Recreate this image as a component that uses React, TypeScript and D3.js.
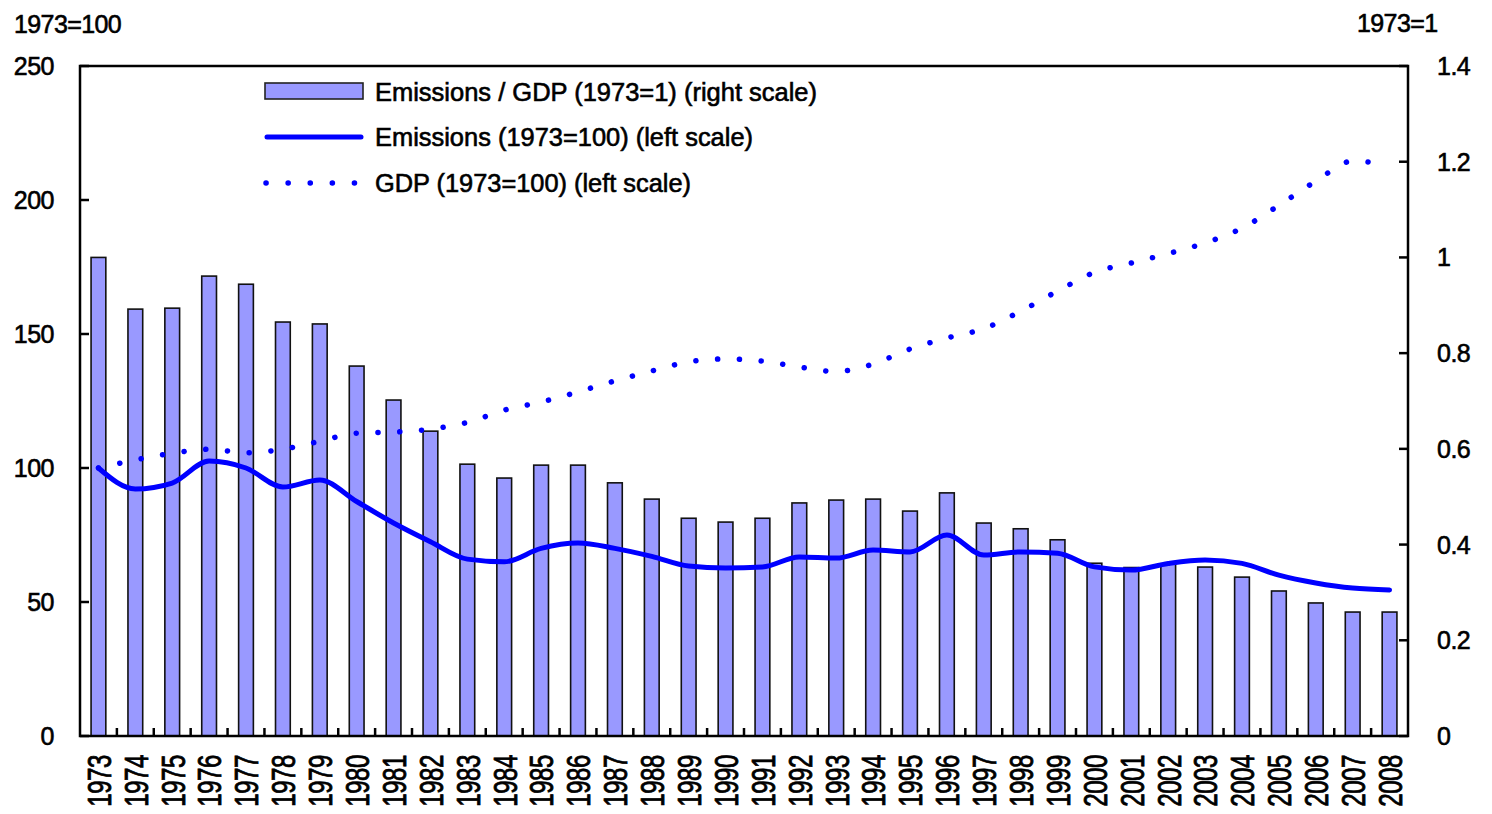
import React from "react";
import * as d3 from "d3";

const years = [
  "1973","1974","1975","1976","1977","1978","1979","1980","1981","1982",
  "1983","1984","1985","1986","1987","1988","1989","1990","1991","1992",
  "1993","1994","1995","1996","1997","1998","1999","2000","2001","2002",
  "2003","2004","2005","2006","2007","2008",
];

// Emissions / GDP (1973=1), right scale
const intensity = [
  1.0, 0.892, 0.894, 0.961, 0.944, 0.865, 0.861, 0.773, 0.702, 0.637,
  0.568, 0.539, 0.566, 0.566, 0.529, 0.495, 0.455, 0.447, 0.455, 0.487,
  0.493, 0.495, 0.47, 0.508, 0.445, 0.433, 0.41, 0.361, 0.352, 0.36,
  0.353, 0.332, 0.303, 0.278, 0.259, 0.259,
];

// Emissions (1973=100), left scale
const emissions = [
  100, 92.2, 94.4, 102.6, 100, 92.9, 95.5, 87.5, 79.5, 72.5,
  66, 65, 70, 72, 70, 67, 63.4, 62.7, 63.1, 66.8,
  66.4, 69.4, 68.7, 75, 67.5, 68.7, 68.2, 63.1, 61.9, 64.4,
  65.7, 64.4, 60, 57.1, 55.2, 54.5,
];

// GDP (1973=100), left scale
const gdp = [
  100, 103, 105.5, 107, 105.7, 107, 110, 113, 113.4, 114.5,
  117, 121.6, 124.6, 128.4, 132.5, 136.2, 139.6, 140.7, 139.9, 137.7,
  136, 138.8, 144.4, 148.5, 152, 158.5, 166, 173, 176.5, 180,
  184, 189.5, 198, 207, 214.5, 213,
];

const leftTicks = [0, 50, 100, 150, 200, 250];
const rightTicks = [0, 0.2, 0.4, 0.6, 0.8, 1, 1.2, 1.4];

const legendLabels = [
  "Emissions / GDP (1973=1) (right scale)",
  "Emissions (1973=100) (left scale)",
  "GDP (1973=100) (left scale)",
];

const FONT = "'Liberation Sans', Arial, sans-serif";
const BAR_FILL = "#9999ff";
const BLUE = "#0000ff";
const TXT = { fill: "#000", stroke: "#000", strokeWidth: 0.6 };

export default function App() {
  const W = 1492;
  const H = 814;
  const x0 = 80;
  const x1 = 1408;
  const yTop = 66;
  const yBot = 736;

  const x = d3
    .scaleBand<string>()
    .domain(years)
    .range([x0, x1])
    .paddingInner(0.6)
    .paddingOuter(0.3);
  const step = x.step();
  const cx = (y: string) => (x(y) as number) + x.bandwidth() / 2;

  const yL = d3.scaleLinear().domain([0, 250]).range([yBot, yTop]);
  const yR = d3.scaleLinear().domain([0, 1.4]).range([yBot, yTop]);

  const line = d3
    .line<number>()
    .x((_, i) => cx(years[i]))
    .y((d) => yL(d))
    .curve(d3.curveMonotoneX);

  const boundaries = d3.range(1, years.length).map((i) => x0 + i * step);

  return (
    <svg
      width={W}
      height={H}
      style={{ position: "absolute", left: 0, top: 0, background: "#fff" }}
      fontFamily={FONT}
    >
      <rect width={W} height={H} fill="#fff" />

      {/* bars */}
      {years.map((yr, i) => (
        <rect
          key={yr}
          x={x(yr)}
          y={yR(intensity[i])}
          width={x.bandwidth()}
          height={yBot - yR(intensity[i])}
          fill={BAR_FILL}
          stroke="#111"
          strokeWidth={1.6}
        />
      ))}

      {/* GDP dotted line */}
      <path
        d={line(gdp) || ""}
        fill="none"
        stroke={BLUE}
        strokeWidth={5.5}
        strokeLinecap="round"
        strokeDasharray="0.1 21.7"
      />

      {/* Emissions line */}
      <path
        d={line(emissions) || ""}
        fill="none"
        stroke={BLUE}
        strokeWidth={5}
        strokeLinecap="round"
        strokeLinejoin="round"
      />

      {/* frame */}
      <rect
        x={x0}
        y={yTop}
        width={x1 - x0}
        height={yBot - yTop}
        fill="none"
        stroke="#000"
        strokeWidth={2.5}
      />

      {/* left ticks */}
      {leftTicks.map((t) => (
        <g key={"l" + t}>
          <line x1={x0} x2={x0 + 9} y1={yL(t)} y2={yL(t)} stroke="#000" strokeWidth={2.5} />
          <text x={54} y={yL(t)} dy="0.36em" textAnchor="end" fontSize={25} letterSpacing={-0.5} {...TXT}>
            {t}
          </text>
        </g>
      ))}

      {/* right ticks */}
      {rightTicks.map((t) => (
        <g key={"r" + t}>
          <line x1={x1 - 9} x2={x1} y1={yR(t)} y2={yR(t)} stroke="#000" strokeWidth={2.5} />
          <text x={1437} y={yR(t)} dy="0.36em" textAnchor="start" fontSize={25} letterSpacing={-0.5} {...TXT}>
            {String(t)}
          </text>
        </g>
      ))}

      {/* x ticks at band boundaries */}
      {boundaries.map((b, i) => (
        <line key={"xt" + i} x1={b} x2={b} y1={yBot} y2={yBot - 8} stroke="#000" strokeWidth={2.5} />
      ))}

      {/* x labels */}
      {years.map((yr) => (
        <g key={"xl" + yr} transform={`translate(${cx(yr)},755) rotate(-90) scale(1,1.42)`}>
          <text
            x={0}
            y={0}
            dy="0.36em"
            textAnchor="end"
            fontSize={24}
            letterSpacing={-0.4}
            {...TXT}
          >
            {yr}
          </text>
        </g>
      ))}

      {/* unit labels */}
      <text x={14} y={24} dy="0.36em" fontSize={25} letterSpacing={-0.6} {...TXT}>
        1973=100
      </text>
      <text x={1357} y={23} dy="0.36em" fontSize={25} letterSpacing={-0.6} {...TXT}>
        1973=1
      </text>

      {/* legend */}
      <rect x={265} y={83} width={98} height={16} fill={BAR_FILL} stroke="#222" strokeWidth={1.6} />
      <line x1={267} x2={361} y1={137} y2={137} stroke={BLUE} strokeWidth={5} strokeLinecap="round" />
      <line
        x1={266}
        x2={360}
        y1={183}
        y2={183}
        stroke={BLUE}
        strokeWidth={5.5}
        strokeLinecap="round"
        strokeDasharray="0.1 22"
      />
      <text x={375} y={92} dy="0.36em" fontSize={25} textLength={442} lengthAdjust="spacingAndGlyphs" {...TXT}>
        {legendLabels[0]}
      </text>
      <text x={375} y={137} dy="0.36em" fontSize={25} textLength={378} lengthAdjust="spacingAndGlyphs" {...TXT}>
        {legendLabels[1]}
      </text>
      <text x={375} y={183} dy="0.36em" fontSize={25} textLength={316} lengthAdjust="spacingAndGlyphs" {...TXT}>
        {legendLabels[2]}
      </text>
    </svg>
  );
}
